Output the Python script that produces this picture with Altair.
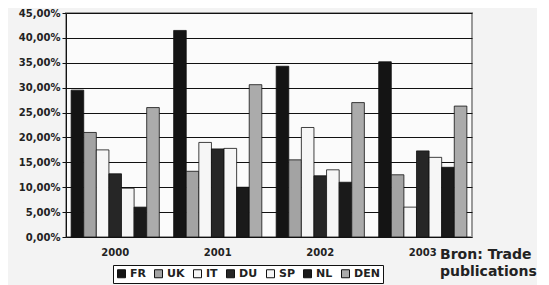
import altair as alt
import pandas as pd

years = ["2000", "2001", "2002", "2003"]
series = ["FR", "UK", "IT", "DU", "SP", "NL", "DEN"]
FR = [0.295, 0.415, 0.343, 0.352]
UK = [0.210, 0.132, 0.155, 0.125]
IT = [0.175, 0.190, 0.220, 0.060]
DU = [0.127, 0.177, 0.123, 0.173]
SP = [0.098, 0.178, 0.135, 0.160]
NL = [0.060, 0.100, 0.110, 0.140]
DEN = [0.260, 0.306, 0.270, 0.263]
colors = ["#141414", "#a3a3a3", "#f6f6f6", "#262626", "#f6f6f6", "#1a1a1a", "#ababab"]

vals = {"FR": FR, "UK": UK, "IT": IT, "DU": DU, "SP": SP, "NL": NL, "DEN": DEN}
rows = []
for s in series:
    for y, v in zip(years, vals[s]):
        rows.append({"year": y, "land": s, "value": v})
df = pd.DataFrame(rows)

bars = alt.Chart(df).mark_bar(stroke="#111111", strokeWidth=0.8).encode(
    x=alt.X("year:N", sort=years, title=None,
            scale=alt.Scale(paddingInner=0.14, paddingOuter=0.05),
            axis=alt.Axis(labelAngle=0, labelFont="DejaVu Sans", labelFontWeight="bold",
                          labelFontSize=10, labelColor="#222222", domain=False, ticks=False,
                          labelPadding=10)),
    xOffset=alt.XOffset("land:N", sort=series),
    y=alt.Y("value:Q", title=None,
            scale=alt.Scale(domain=[0, 0.45]),
            axis=alt.Axis(values=[i * 0.05 for i in range(10)],
                          labelExpr="replace(format(datum.value, '.2%'), '.', ',')",
                          labelFont="DejaVu Sans", labelFontWeight="bold", labelFontSize=10,
                          labelColor="#222222", gridColor="#111111", gridWidth=1,
                          domainColor="#111111", tickColor="#111111", tickSize=4)),
    color=alt.Color("land:N", sort=series, title=None,
                    scale=alt.Scale(domain=series, range=colors),
                    legend=alt.Legend(orient="none", legendX=47, legendY=252, direction="horizontal",
                                      symbolType="square", symbolSize=64, symbolStrokeColor="#111111",
                                      symbolStrokeWidth=1,
                                      labelFont="DejaVu Sans", labelFontWeight="bold", labelFontSize=11,
                                      labelColor="#222222", columnPadding=6, labelOffset=3,
                                      strokeColor="#111111", padding=3, fillColor="#ffffff")),
)

note = alt.Chart(pd.DataFrame({"t": [["Bron: Trade", "publications"]]})).mark_text(
    font="DejaVu Sans", fontWeight="bold", fontSize=14, align="left", baseline="top",
    color="#222222", lineHeight=17
).encode(text="t", x=alt.value(374), y=alt.value(235))

chart = alt.layer(bars, note).properties(
    width=406, height=224,
    autosize=alt.AutoSizeParams(type="none"),
    padding={"left": 58, "top": 5, "right": 65, "bottom": 48},
    background="#f3f3f3",
).configure_view(fill="#fbfbfb", stroke="#999999", strokeWidth=2)

chart.save("out.html", embed_options={"renderer": "svg", "actions": False})
